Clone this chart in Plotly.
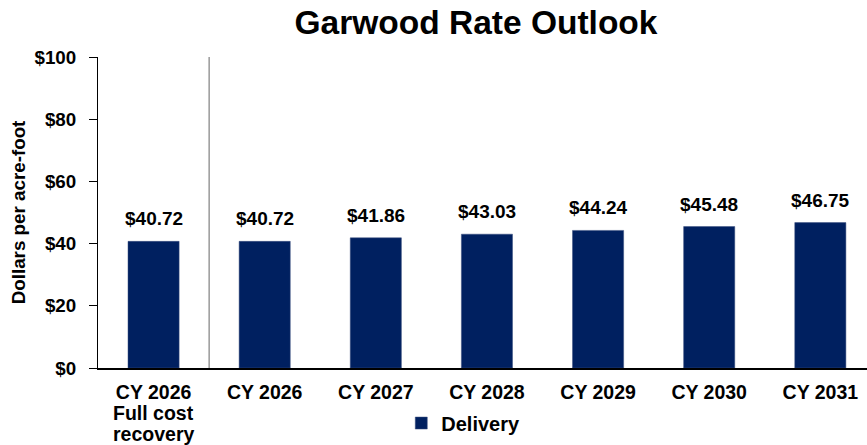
import plotly.graph_objects as go

categories = ["CY 2026", "CY 2026", "CY 2027", "CY 2028",
              "CY 2029", "CY 2030", "CY 2031"]
first_category_sublines = ["Full cost", "recovery"]
delivery = [40.72, 40.72, 41.86, 43.03, 44.24, 45.48, 46.75]
value_labels = ["$40.72", "$40.72", "$41.86", "$43.03", "$44.24", "$45.48", "$46.75"]
y_ticks = [0, 20, 40, 60, 80, 100]
y_tick_labels = ["$0", "$20", "$40", "$60", "$80", "$100"]

FONT = "Liberation Sans, Arial, sans-serif"
NAVY = "#002060"

xs = list(range(len(categories)))

fig = go.Figure()
fig.add_trace(go.Bar(
    x=xs, y=delivery, name="<b>Delivery</b>",
    marker=dict(color=NAVY, line=dict(color="#3a4f7f", width=0.5)),
    width=0.46,
))

for xi, v, lab in zip(xs, delivery, value_labels):
    fig.add_annotation(x=xi, y=v, text="<b>%s</b>" % lab, showarrow=False,
                       yanchor="bottom", yshift=10,
                       font=dict(family=FONT, size=19, color="#000000"))

# extra lines under the first category label (tighter line spacing)
for i, sub in enumerate(first_category_sublines):
    fig.add_annotation(x=xs[0], xref="x", y=0, yref="paper", text="<b>%s</b>" % sub,
                       showarrow=False, yanchor="middle", yshift=-(45 + 20.5 * i),
                       font=dict(family=FONT, size=19.5, color="#000000"))

# separator between full-cost column and outlook years
fig.add_shape(type="line", x0=0.5, x1=0.5, y0=0, y1=100, xref="x", yref="y",
              line=dict(color="#7f7f7f", width=1.2))

fig.update_layout(
    width=867, height=445,
    margin=dict(l=98, r=0, t=57, b=77),
    paper_bgcolor="white", plot_bgcolor="white",
    font=dict(family=FONT, size=18, color="#000000"),
    title=dict(text="<b>Garwood Rate Outlook</b>", x=476 / 867, xanchor="center",
               y=1 - 22 / 445, yanchor="middle",
               font=dict(family=FONT, size=33.5, color="#000000")),
    showlegend=True,
    legend=dict(orientation="h", x=0.475, xanchor="center", y=-0.177, yanchor="middle",
                font=dict(family=FONT, size=20, color="#000000"),
                bgcolor="rgba(0,0,0,0)", itemwidth=30),
    bargap=0.54,
)

fig.update_xaxes(
    tickmode="array", tickvals=xs,
    ticktext=["<b>%s</b>" % c for c in categories],
    range=[-0.5, 6.42], showline=True, linecolor="#000000", linewidth=2,
    ticks="", showgrid=False, zeroline=False, automargin=False,
    ticklabelstandoff=6,
    tickfont=dict(family=FONT, size=19.5, color="#000000"),
)
fig.update_yaxes(
    range=[0, 100], tickmode="array", tickvals=y_ticks,
    ticktext=["<b>%s</b>" % t for t in y_tick_labels],
    showline=True, linecolor="#000000", linewidth=1,
    ticks="outside", ticklen=8, tickcolor="#000000",
    showgrid=False, zeroline=False, automargin=False,
    ticklabelstandoff=9,
    tickfont=dict(family=FONT, size=18.8, color="#000000"),
    title=dict(text="<b>Dollars per acre-foot</b>", standoff=3,
               font=dict(family=FONT, size=18.8, color="#000000")),
)

fig.write_html("out.html", config={"displayModeBar": False},
               post_script="document.body.style.margin='0';")
